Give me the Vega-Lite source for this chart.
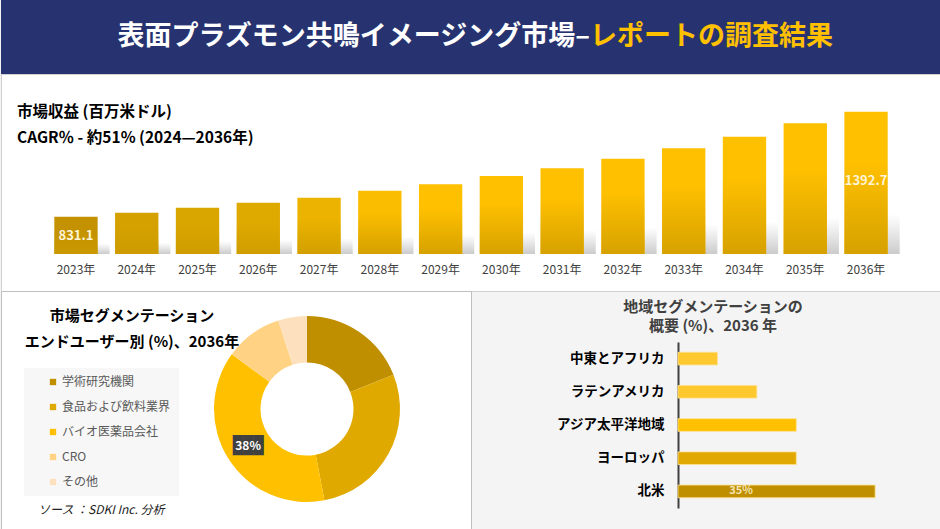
{
  "$schema": "https://vega.github.io/schema/vega-lite/v6.json",
  "background": "#f4f4f4",
  "padding": 0,
  "spacing": 0,
  "bounds": "flush",
  "resolve": {"scale": {"color": "independent"}, "legend": {"color": "independent"}},
  "config": {
    "font": "Noto Sans CJK JP",
    "view": {"stroke": null},
    "title": {"font": "Noto Sans CJK JP", "subtitleFont": "Noto Sans CJK JP"},
    "axis": {"labelFont": "Noto Sans CJK JP", "grid": false},
    "legend": {"labelFont": "Noto Sans CJK JP"},
    "text": {"font": "Noto Sans CJK JP"}
  },
  "vconcat": [
    {
      "width": 940,
      "height": 74,
      "view": {"fill": "#263370", "stroke": null},
      "data": {"values": [{"a": "表面プラズモン共鳴イメージング市場–", "b": "レポートの調査結果"}]},
      "layer": [
        {
          "mark": {"type": "text", "align": "right", "baseline": "middle", "dx": 119, "fontSize": 27, "fontWeight": "bold", "fill": "#ffffff"},
          "encoding": {"text": {"field": "a"}}
        },
        {
          "mark": {"type": "text", "align": "left", "baseline": "middle", "dx": 119, "fontSize": 27, "fontWeight": "bold", "fill": "#ffc000"},
          "encoding": {"text": {"field": "b"}}
        }
      ]
    },
    {
      "width": 940,
      "height": 217,
      "view": {"fill": "#ffffff", "stroke": "#d0d0d0"},
      "title": {
        "text": "市場収益 (百万米ドル)",
        "subtitle": "CAGR％ - 約51% (2024—2036年)",
        "anchor": "start",
        "frame": "group",
        "orient": "top",
        "offset": 0,
        "dx": 16,
        "dy": 72,
        "fontSize": 15.5,
        "fontWeight": "bold",
        "color": "#000000",
        "subtitleFontSize": 15.5,
        "subtitleFontWeight": "bold",
        "subtitleColor": "#000000",
        "subtitlePadding": 10
      },
      "data": {"values": [
        {"year": "2023年", "v": 831.1},
        {"year": "2024年", "v": 852.5},
        {"year": "2025年", "v": 879.2},
        {"year": "2026年", "v": 906.0},
        {"year": "2027年", "v": 932.7},
        {"year": "2028年", "v": 970.2},
        {"year": "2029年", "v": 1004.4},
        {"year": "2030年", "v": 1048.8},
        {"year": "2031年", "v": 1090.0},
        {"year": "2032年", "v": 1141.3},
        {"year": "2033年", "v": 1196.9},
        {"year": "2034年", "v": 1259.0},
        {"year": "2035年", "v": 1330.6},
        {"year": "2036年", "v": 1392.7}
      ]},
      "encoding": {
        "x": {
          "field": "year",
          "type": "ordinal",
          "scale": {"paddingInner": 0.287, "paddingOuter": 0.877},
          "axis": {"orient": "bottom", "offset": -37, "title": null, "domain": false, "ticks": false, "labelPadding": 10, "labelFontSize": 12, "labelColor": "#404040", "labelAngle": 0}
        },
        "y": {"field": "v", "type": "quantitative", "scale": {"domain": [433.7, 1594.3], "nice": false, "zero": false}, "axis": null}
      },
      "layer": [
        {
          "mark": {
            "type": "bar",
            "xOffset": 12,
            "color": {
              "gradient": "linear",
              "x1": 0, "y1": 0, "x2": 0, "y2": 1,
              "stops": [
                {"offset": 0, "color": "rgba(170,170,170,0)"},
                {"offset": 0.72, "color": "rgba(170,170,170,0)"},
                {"offset": 1, "color": "rgba(160,160,160,0.55)"}
              ]
            }
          },
          "encoding": {"y2": {"datum": 631.6}}
        },
        {
          "mark": {"type": "bar"},
          "encoding": {
            "y2": {"datum": 631.6},
            "color": {
              "field": "year",
              "type": "nominal",
              "legend": null,
              "scale": {
                "domain": ["2023年", "2024年", "2025年", "2026年", "2027年", "2028年", "2029年", "2030年", "2031年", "2032年", "2033年", "2034年", "2035年", "2036年"],
                "range": ["#c49200", "#d4a100", "#d9a600", "#dfaa00", "#ecb400", "#fbbd00", "#ffc000", "#ffc000", "#ffc000", "#ffc000", "#ffc000", "#ffc000", "#ffc000", "#ffc000"]
              }
            }
          }
        },
        {
          "mark": {
            "type": "bar",
            "color": {
              "gradient": "linear",
              "x1": 0, "y1": 0, "x2": 0, "y2": 1,
              "stops": [
                {"offset": 0, "color": "rgba(204,154,0,0)"},
                {"offset": 0.35, "color": "rgba(204,154,0,0)"},
                {"offset": 1, "color": "rgba(204,154,0,0.8)"}
              ]
            }
          },
          "encoding": {"y2": {"datum": 631.6}}
        },
        {
          "transform": [{"filter": "datum.year == '2023年'"}],
          "mark": {"type": "text", "baseline": "middle", "dy": 19, "fontSize": 13, "fontWeight": "bold", "fill": "#fff4d6"},
          "encoding": {"text": {"field": "v", "type": "quantitative", "format": ".1f"}}
        },
        {
          "transform": [{"filter": "datum.year == '2036年'"}],
          "mark": {"type": "text", "baseline": "middle", "dy": 69, "fontSize": 13, "fontWeight": "bold", "fill": "#fff4d6"},
          "encoding": {"text": {"field": "v", "type": "quantitative", "format": ".1f"}}
        }
      ]
    },
    {
      "resolve": {"scale": {"color": "independent"}, "legend": {"color": "independent"}},
      "hconcat": [
        {
          "width": 470,
          "height": 238,
          "view": {"fill": "#ffffff", "stroke": "#bfbfbf"},
          "title": {
            "text": ["市場セグメンテーション", "エンドユーザー別 (%)、2036年"],
            "anchor": "start",
            "align": "center",
            "frame": "group",
            "orient": "top",
            "offset": 0,
            "dx": 131,
            "dy": 59,
            "lineHeight": 26.5,
            "fontSize": 15,
            "fontWeight": "bold",
            "color": "#000000"
          },
          "data": {"values": [
            {"seg": "学術研究機関", "pct": 19, "k": 1},
            {"seg": "食品および飲料業界", "pct": 28, "k": 2},
            {"seg": "バイオ医薬品会社", "pct": 38, "k": 3},
            {"seg": "CRO", "pct": 10, "k": 4},
            {"seg": "その他", "pct": 5, "k": 5}
          ]},
          "layer": [
            {
              "mark": {"type": "arc", "innerRadius": 46.5, "outerRadius": 93, "xOffset": 71, "yOffset": -1},
              "encoding": {
                "theta": {"field": "pct", "type": "quantitative", "stack": true},
                "order": {"field": "k", "type": "quantitative"},
                "color": {
                  "field": "seg",
                  "type": "nominal",
                  "sort": null,
                  "scale": {
                    "domain": ["学術研究機関", "食品および飲料業界", "バイオ医薬品会社", "CRO", "その他"],
                    "range": ["#bf8f00", "#e0a900", "#ffc000", "#ffd383", "#fde1be"]
                  },
                  "legend": {
                    "orient": "none",
                    "legendX": 23,
                    "legendY": 77,
                    "title": null,
                    "fillColor": "#f7f7f7",
                    "padding": 8,
                    "symbolType": "square",
                    "symbolSize": 40,
                    "symbolOffset": 15,
                    "symbolStrokeWidth": 0,
                    "labelFontSize": 12,
                    "labelColor": "#595959",
                    "labelOffset": 3,
                    "rowPadding": 13
                  }
                }
              }
            },
            {
              "mark": {"type": "text", "font": "DejaVu Sans Mono", "fontSize": 17, "fill": "#404040", "radius": 69.75, "xOffset": 71, "yOffset": -1, "baseline": "middle", "align": "center"},
              "encoding": {
                "theta": {"field": "pct", "type": "quantitative", "stack": true},
                "order": {"field": "k", "type": "quantitative"},
                "text": {"condition": {"test": "datum.k == 3", "value": "███"}, "value": ""}
              }
            },
            {
              "mark": {"type": "text", "fontSize": 12, "fontWeight": "bold", "fill": "#ffffff", "radius": 69.75, "xOffset": 71, "yOffset": -1, "baseline": "middle", "align": "center"},
              "encoding": {
                "theta": {"field": "pct", "type": "quantitative", "stack": true},
                "order": {"field": "k", "type": "quantitative"},
                "text": {"condition": {"test": "datum.k == 3", "value": "38%"}, "value": ""}
              }
            },
            {
              "data": {"values": [{"src": "ソース ：SDKI Inc. 分析"}]},
              "mark": {"type": "text", "align": "left", "baseline": "middle", "dx": -198, "dy": 100, "fontSize": 12, "fontStyle": "italic", "fill": "#222222"},
              "encoding": {"text": {"field": "src"}}
            }
          ]
        },
        {
          "resolve": {"scale": {"color": "independent"}, "legend": {"color": "independent"}},
          "vconcat": [
            {
              "width": 263,
              "height": 51,
              "data": {"values": [{}]},
              "mark": {"type": "text", "text": ""}
            },
            {
              "width": 263,
              "height": 166,
              "title": {
                "text": ["地域セグメンテーションの", "概要 (%)、2036 年"],
                "anchor": "middle",
                "frame": "group",
                "orient": "top",
                "dx": -96.5,
                "offset": 8,
                "lineHeight": 19,
                "fontSize": 15,
                "fontWeight": "bold",
                "color": "#404040"
              },
              "data": {"values": [
                {"region": "中東とアフリカ", "v": 7},
                {"region": "ラテンアメリカ", "v": 14},
                {"region": "アジア太平洋地域", "v": 21},
                {"region": "ヨーロッパ", "v": 21},
                {"region": "北米", "v": 35}
              ]},
              "encoding": {
                "y": {
                  "field": "region",
                  "type": "nominal",
                  "sort": null,
                  "scale": {"paddingInner": 0.62, "paddingOuter": 0.31},
                  "axis": {"title": null, "ticks": false, "domain": true, "domainColor": "#404040", "domainWidth": 2, "labelPadding": 14, "labelFontSize": 13.5, "labelFontWeight": "bold", "labelColor": "#000000"}
                },
                "x": {"field": "v", "type": "quantitative", "scale": {"domain": [0, 46.7], "nice": false}, "axis": null}
              },
              "layer": [
                {
                  "mark": {"type": "bar", "stroke": "#ffe08a", "strokeWidth": 0.8},
                  "encoding": {
                    "color": {
                      "field": "region",
                      "type": "nominal",
                      "legend": null,
                      "scale": {
                        "domain": ["中東とアフリカ", "ラテンアメリカ", "アジア太平洋地域", "ヨーロッパ", "北米"],
                        "range": ["#fec82f", "#fec82f", "#ffc000", "#e0a800", "#bf8f00"]
                      }
                    }
                  }
                },
                {
                  "transform": [{"filter": "datum.region == '北米'"}],
                  "mark": {"type": "text", "align": "center", "baseline": "middle", "dx": -134, "fontSize": 11, "fontWeight": "bold", "fill": "#f3e3b2"},
                  "encoding": {"text": {"value": "35%"}}
                }
              ]
            }
          ],
          "spacing": 0,
          "bounds": "flush"
        }
      ],
      "spacing": 207,
      "bounds": "flush"
    }
  ]
}
